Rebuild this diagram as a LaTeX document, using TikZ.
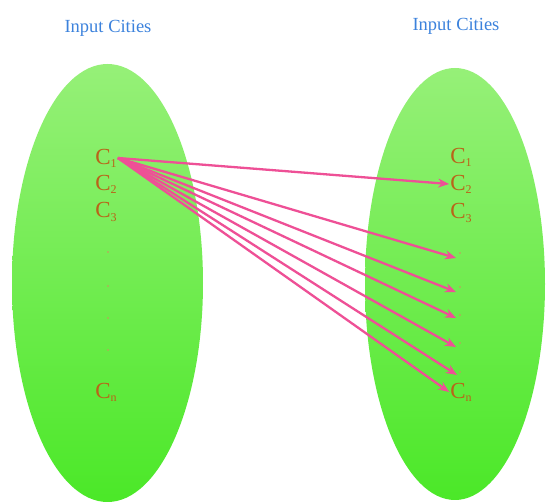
\documentclass[tikz,border=0pt]{standalone}
\usepackage{fontspec}
\setmainfont{Liberation Serif}
\usetikzlibrary{shapes.geometric,arrows.meta}
\definecolor{titleblue}{RGB}{60,130,220}
\definecolor{ctext}{RGB}{185,100,25}
\definecolor{gtop}{RGB}{150,240,120}
\definecolor{gbot}{RGB}{75,232,40}
\definecolor{pinkarrow}{RGB}{238,80,150}
\tikzset{
  setell/.style={ellipse, draw=none, top color=gtop, bottom color=gbot, inner sep=0pt},
  title/.style={text=titleblue, font=\fontsize{18.5}{20}\selectfont, inner sep=0pt},
  clab/.style={text=ctext, font=\fontsize{23}{25}\selectfont, inner sep=1pt},
  dotn/.style={circle, fill=ctext!70, inner sep=0pt, minimum size=1.8pt},
  pk/.style={draw=pinkarrow, line width=2.3pt, -{Stealth[length=11pt,width=9pt]}}
}
\newcommand{\cc}[1]{C\raisebox{-0.3ex}{\fontsize{12}{13}\selectfont #1}}
\begin{document}
\begin{tikzpicture}[x=1pt,y=-1pt]
\useasboundingbox (0,0) rectangle (547,502);
\node[setell, minimum width=191pt, minimum height=438pt] (LE) at (107.5,283) {};
\node[setell, minimum width=180pt, minimum height=432pt] (RE) at (455,284) {};
\node[title] (LT) at (108,28) {Input Cities};
\node[title] (RT) at (456,26) {Input Cities};
% left labels
\node[clab] (L1) at (106,158) {\cc{1}};
\node[clab] (L2) at (106,184) {\cc{2}};
\node[clab] (L3) at (106,212) {\cc{3}};
\node[dotn] (Ld1) at (108,252) {};
\node[dotn] (Ld2) at (108,286) {};
\node[dotn] (Ld3) at (108,318) {};
\node[dotn] (Ld4) at (108,350) {};
\node[clab] (Ln) at (106,392) {\cc{n}};
% right labels
\node[clab] (R1) at (461,157) {\cc{1}};
\node[clab] (R2) at (461,184) {\cc{2}};
\node[clab] (R3) at (461,213) {\cc{3}};
\node[dotn] (Rd1) at (460,253) {};
\node[dotn] (Rd2) at (460,287) {};
\node[dotn] (Rd3) at (460,315) {};
\node[dotn] (Rd4) at (460,343) {};
\node[dotn] (Rd5) at (460,372) {};
\node[clab] (Rn) at (461,392) {\cc{n}};
% arrows
\draw[pk] (L1.east) -- (R2.west);
\draw[pk] (L1.east) -- ([xshift=-4pt,yshift=-5pt]Rd1.center);
\draw[pk] (L1.east) -- ([xshift=-4pt,yshift=-5pt]Rd2.center);
\draw[pk] (L1.east) -- ([xshift=-4pt,yshift=-3pt]Rd3.center);
\draw[pk] (L1.east) -- ([xshift=-4pt,yshift=-4pt]Rd4.center);
\draw[pk] (L1.east) -- ([xshift=-3pt,yshift=-3pt]Rd5.center);
\draw[pk] (L1.east) -- (Rn.west);
\end{tikzpicture}
\end{document}
